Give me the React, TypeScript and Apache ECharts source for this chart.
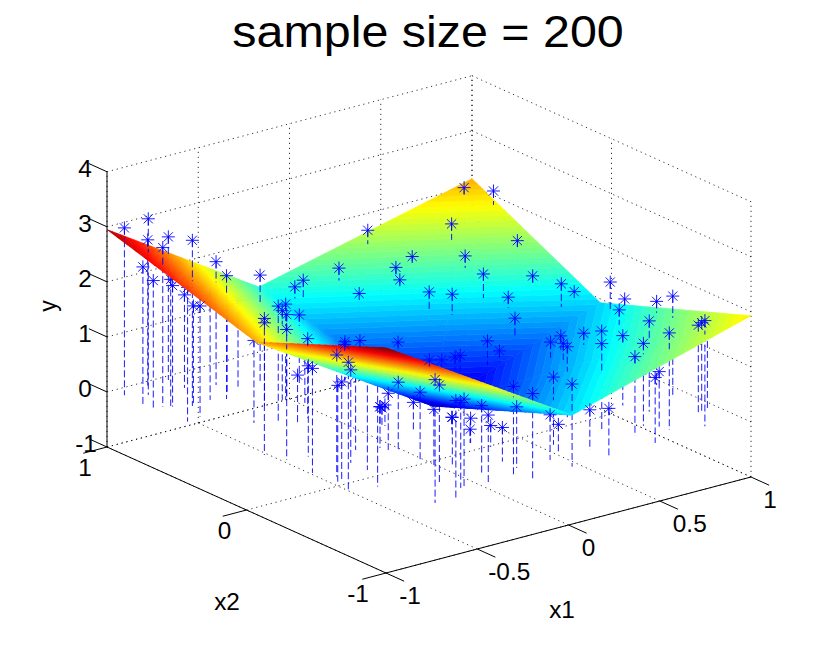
import React, { useEffect, useRef } from "react";
import * as echarts from "echarts";

const titleText = "sample size = 200";
const x1Ticks = [-1, -0.5, 0, 0.5, 1];
const x2Ticks = [-1, 0, 1];
const yTicks = [-1, 0, 1, 2, 3, 4];

// Fitted surface: mesh nodes
const meshX1 = [-1, -0.167, 1, 1, 1, 0.02, -1, -1, 0.02];
const meshX2 = [1, 1, 1, 0.08, -1, -1, -1, -0.07, 0];
const meshY = [2.95, 1.18, 2.13, 0.93, 1.93, 0.98, 3.09, 2.13, 0];
const meshTriangles = [
  [0, 1, 7], [1, 8, 7], [1, 2, 8], [2, 3, 8],
  [8, 3, 4], [8, 4, 5], [7, 8, 5], [7, 5, 6],
];
const colorMin = -0.15;
const colorMax = 3.09;

// Samples [x1, x2, y] that the surface does not hide
const samplesOver = [
  [-0.965, 0.921, 3.04], [-0.88, 0.861, 3.2], [-0.828, 0.933, 2.69], [-0.696, 0.958, 2.6],
  [-0.92, 0.705, 2.89], [-0.989, 0.757, 2.54], [-0.965, 0.714, 2.32], [-0.812, 0.634, 3.01],
  [-0.569, 0.782, 2.24], [-0.64, 0.614, 2.24], [-0.401, 0.686, 1.96], [-0.701, 0.836, 1.69],
  [-0.801, 0.641, 1.8], [-0.867, 0.507, 2.01], [-0.938, -0.047, 2.48], [-0.562, 0.444, 1.51],
  [-0.635, 0.25, 2.1], [-0.442, 0.449, 1.74], [-0.454, 0.458, 1.62], [-0.899, -0.156, 2.64],
  [-0.288, 0.553, 1.29], [-0.439, 0.446, 1.28], [-0.504, 0.21, 1.44], [-0.08, 0.857, 1.27],
  [-0.05, 0.836, 1.39], [0.164, 0.715, 1.1], [0.383, 0.94, 1.8], [0.145, 0.835, 1.44],
  [0.373, 0.725, 1.38], [0.35, 0.667, 1.24], [0.479, 0.747, 1.46], [0.904, 0.931, 2.13],
  [0.98, 0.82, 2.13], [0.701, 0.755, 1.85], [0.91, 0.557, 1.59], [0.646, 0.586, 1.51],
  [0.6, 0.395, 1.44], [0.828, 0.34, 1.27], [0.355, 0.463, 1.25], [0.426, 0.391, 1.23],
  [0.652, 0.285, 1.1], [0.845, 0.157, 1.32], [0.944, 0.194, 1.05], [0.565, 0.123, 0.98],
  [0.367, 0.061, 0.81], [0.421, 0.046, 0.6], [0.233, 0.081, 0.64], [0.233, 0.118, 0.57],
  [0.215, 0.19, 0.45], [0.171, 0.221, 0.45], [0.111, 0.367, 0.66], [-0.086, 0.49, 0.7],
  [-0.095, 0.48, 0.67], [-0.017, 0.473, 0.68], [-0.854, -0.456, 2.21], [-0.916, -0.62, 2.32],
  [-0.7, -0.355, 1.69], [-0.889, -0.509, 1.75], [-0.862, -0.502, 1.78], [-0.578, 0.186, 0.87],
  [-0.799, -0.18, 1.65], [-0.91, -0.355, 1.9], [-0.484, -0.282, 0.75], [-0.298, -0.074, 0.38],
  [-0.309, -0.067, 0.33], [-0.316, -0.061, 0.35], [-0.471, -0.324, 1.03], [-0.436, -0.35, 1.23],
  [-0.715, -0.979, 2.24], [-0.547, -0.79, 1.78], [-0.437, -0.508, 1.23], [-0.23, -0.189, 0.5],
  [-0.428, -0.595, 1.01], [-0.097, -0.29, 0.23], [-0.605, -0.984, 1.77], [-0.502, -0.908, 1.62],
  [-0.511, -0.896, 1.55], [-0.379, -0.663, 0.9], [-0.134, -0.47, 0.25], [-0.132, -0.471, 0.45],
  [-0.339, -0.821, 1.26], [-0.393, -0.939, 1.27], [-0.093, -0.564, 0.39], [-0.165, -0.742, 0.62],
  [-0.242, -0.922, 1.64], [-0.164, -0.843, 1.11], [-0.188, -0.989, 1.54], [0.141, -0.708, 1.23],
  [0.038, -0.976, 1.5], [0.095, -0.803, 0.52], [0.013, -0.851, 0.82], [0.227, -0.856, 0.73],
  [0.232, -0.986, 0.9], [0.948, -0.059, 1.51], [0.995, -0.101, 1.21], [0.829, -0.279, 1.36],
  [0.956, -0.381, 1.52], [0.926, -0.536, 1.82], [0.726, -0.629, 1.65], [0.597, -0.756, 1.5],
  [0.491, -0.834, 1.44], [0.657, -0.863, 1.76], [0.682, -0.497, 1.27], [0.417, -0.693, 1.58],
  [0.758, -0.246, 1.0], [0.637, -0.276, 1.1], [0.884, -0.774, 1.6], [0.898, -0.78, 1.64],
  [0.807, -0.922, 1.92], [0.507, -0.958, 1.19], [0.505, -0.211, 0.98], [0.579, -0.187, 1.0],
  [0.497, -0.312, 1.08], [0.4, -0.468, 1.28],
];

// Samples lying under the surface, drawn before it
const samplesUnder = [
  [-0.887, 0.691, 2.3], [-0.949, 0.489, 2.44], [-0.607, 0.653, 2.0], [-0.506, 0.707, 1.57],
  [-0.729, 0.301, 1.5], [-0.697, -0.47, 1.9], [-0.789, -0.664, 2.56], [-0.584, -0.238, 1.35],
  [0.956, -0.745, 1.4], [0.646, -0.805, 1.0], [-0.704, 0.648, 1.9], [-0.886, 0.679, 2.2],
  [0.874, 0.79, 1.72], [-0.399, 0.368, 1.0],
];

const project = (x1: number, x2: number, y: number) => {
  const a = x1 + 1;
  const b = x2 + 1;
  return [386 + 182.5 * a - 139.5 * b, 573 - 48 * a - 63 * b - 55.05 * (y + 1)];
};

const jet = (t: number) => {
  const c = (v: number) => Math.round(255 * Math.max(0, Math.min(1, v)));
  return `rgb(${c(1.5 - Math.abs(4 * t - 3))},${c(1.5 - Math.abs(4 * t - 2))},${c(1.5 - Math.abs(4 * t - 1))})`;
};

type P3 = number[];

const clipPlane = (poly: P3[], level: number, keepAbove: boolean) => {
  const out: P3[] = [];
  for (let i = 0; i < poly.length; i++) {
    const p = poly[i];
    const q = poly[(i + 1) % poly.length];
    const pIn = keepAbove ? p[2] >= level : p[2] <= level;
    const qIn = keepAbove ? q[2] >= level : q[2] <= level;
    if (pIn) out.push(p);
    if (pIn !== qIn) {
      const s = (level - p[2]) / (q[2] - p[2]);
      out.push([p[0] + s * (q[0] - p[0]), p[1] + s * (q[1] - p[1]), level]);
    }
  }
  return out;
};

const node = (i: number): P3 => [meshX1[i], meshX2[i], meshY[i]];

const nearness = (t: number[]) => {
  const c = t.map(node).reduce((s, p) => [s[0] + p[0] / 3, s[1] + p[1] / 3, s[2] + p[2] / 3], [0, 0, 0]);
  return -0.572 * (c[0] + 1) / 2 - 0.745 * (c[1] + 1) / 2 + 0.22 * (c[2] + 1) / 5;
};

const surfaceAt = (x1: number, x2: number) => {
  for (const t of meshTriangles) {
    const [p, q, r] = t.map(node);
    const d = (q[1] - r[1]) * (p[0] - r[0]) + (r[0] - q[0]) * (p[1] - r[1]);
    const u = ((q[1] - r[1]) * (x1 - r[0]) + (r[0] - q[0]) * (x2 - r[1])) / d;
    const v = ((r[1] - p[1]) * (x1 - r[0]) + (p[0] - r[0]) * (x2 - r[1])) / d;
    const w = 1 - u - v;
    if (u >= -1e-6 && v >= -1e-6 && w >= -1e-6) return u * p[2] + v * q[2] + w * r[2];
  }
  return -Infinity;
};

const buildBands = () => {
  const levels = 64;
  const step = (colorMax - colorMin) / levels;
  const bands: { pts: number[][]; color: string }[] = [];
  const ordered = [...meshTriangles].sort((a, b) => nearness(a) - nearness(b));
  for (const t of ordered) {
    const tri = t.map(node);
    for (let k = 0; k < levels; k++) {
      const lo = colorMin + k * step;
      let poly = clipPlane(tri, lo, true);
      if (poly.length >= 3) poly = clipPlane(poly, lo + step, false);
      if (poly.length >= 3) {
        bands.push({ pts: poly.map((p) => project(p[0], p[1], p[2])), color: jet((k + 0.5) / levels) });
      }
    }
  }
  return bands;
};

type Seg = number[];

const buildGrid = (): Seg[] => {
  const s: Seg[] = [];
  for (const v of x1Ticks) {
    s.push([v, -1, -1, v, 1, -1]);
    s.push([v, 1, -1, v, 1, 4]);
  }
  for (const v of x2Ticks) {
    s.push([-1, v, -1, 1, v, -1]);
    s.push([1, v, -1, 1, v, 4]);
  }
  for (const v of yTicks) {
    s.push([-1, 1, v, 1, 1, v]);
    s.push([1, 1, v, 1, -1, v]);
  }
  return s;
};

const buildAxes = (): Seg[] => {
  const s: Seg[] = [
    [-1, 1, -1, -1, -1, -1],
    [-1, -1, -1, 1, -1, -1],
    [-1, 1, -1, -1, 1, 4],
  ];
  for (const v of x1Ticks) s.push([v, -1, -1, v, -1.13, -1]);
  for (const v of x2Ticks) s.push([-1, v, -1, -1.13, v, -1]);
  for (const v of yTicks) s.push([-1, 1, v, -1, 1.13, v]);
  return s;
};

const segPixels = (seg: Seg) => [...project(seg[0], seg[1], seg[2]), ...project(seg[3], seg[4], seg[5])];

const segmentSeries = (segs: Seg[], z: number, lineStyle: any) => ({
  type: "custom",
  coordinateSystem: "cartesian2d",
  silent: true,
  clip: false,
  progressive: 0,
  z,
  data: segs.map((_, i) => [i, 0]),
  renderItem: (params: any, api: any) => {
    const p = segPixels(segs[params.dataIndex]);
    const a = api.coord([p[0], p[1]]);
    const b = api.coord([p[2], p[3]]);
    return {
      type: "line",
      shape: { x1: a[0], y1: a[1], x2: b[0], y2: b[1] },
      style: { fill: null, ...lineStyle },
    };
  },
});

const starPath = "path://M0 -10L0 10M-10 0L10 0M-7.07 -7.07L7.07 7.07M-7.07 7.07L7.07 -7.07";

const starSeries = (samples: number[][], z: number) => ({
  type: "scatter",
  silent: true,
  z,
  symbol: starPath,
  symbolSize: 13,
  itemStyle: { color: "transparent", borderColor: "#0000ff", borderWidth: 0.9, opacity: 1 },
  data: samples.map((d) => project(d[0], d[1], d[2])),
});

const textFont = '23px "Liberation Sans", Arial, sans-serif';

const label = (text: string, x: number, y: number, extra: any = {}) => ({
  type: "text",
  x,
  y,
  z: 100,
  silent: true,
  scaleX: 1.06,
  style: {
    text,
    font: textFont,
    lineHeight: 20,
    fill: "#000",
    textAlign: "center",
    textVerticalAlign: "middle",
    verticalAlign: "middle",
  },
  ...extra,
});

const buildGraphic = () => {
  const out: any[] = [
    label(titleText, 428, 32, {
      scaleX: 1.1,
      style: {
        text: titleText,
        font: '44px "Liberation Sans", Arial, sans-serif',
        fill: "#000",
        textAlign: "center",
        textVerticalAlign: "middle",
        verticalAlign: "middle",
      },
    }),
    label("x1", 562, 610),
    label("x2", 227, 602),
    label("y", 48, 306, { rotation: Math.PI / 2, scaleX: 1 }),
  ];
  for (const v of yTicks) {
    const p = project(-1, 1, v);
    out.push(label(String(v), v < 0 ? 86 : 85, p[1] - 3));
  }
  for (const v of x1Ticks) {
    const p = project(v, -1, -1);
    const dx = v === -1 ? 24 : v === -0.5 ? 32 : v === 0 ? 20 : v === 0.5 ? 30 : 19;
    out.push(label(String(v), p[0] + dx, p[1] + 23));
  }
  for (const v of x2Ticks) {
    const p = project(-1, v, -1);
    out.push(label(String(v), p[0] - (v === -1 ? 28 : 22), p[1] + 21));
  }
  return out;
};

export default function App() {
  const ref = useRef<HTMLDivElement>(null);
  useEffect(() => {
    if (!ref.current) return;
    const chart = echarts.init(ref.current, undefined, { renderer: "svg", width: 830, height: 647 });
    const bands = buildBands();
    const stemsBelow: Seg[] = [];
    const stemsAbove: Seg[] = [];
    for (const [x1, x2, y] of samplesOver) {
      const s = surfaceAt(x1, x2);
      stemsBelow.push([x1, x2, Math.min(y, s), x1, x2, 0]);
      if (y > s) stemsAbove.push([x1, x2, y, x1, x2, s]);
    }
    for (const [x1, x2, y] of samplesUnder) stemsBelow.push([x1, x2, y, x1, x2, 0]);
    const stemStyle = { stroke: "#0000ff", lineWidth: 0.9, lineDash: [7, 3] };
    chart.setOption({
      animation: false,
      backgroundColor: "#fff",
      grid: { left: 0, right: 0, top: 0, bottom: 0 },
      xAxis: { type: "value", min: 0, max: 830, show: false },
      yAxis: { type: "value", min: 0, max: 647, inverse: true, show: false },
      graphic: buildGraphic(),
      series: [
        segmentSeries(buildGrid(), 1, { stroke: "#000", lineWidth: 0.8, lineDash: [1.2, 3.8] }),
        segmentSeries(stemsBelow, 2, stemStyle),
        starSeries(samplesUnder, 3),
        {
          type: "custom",
          coordinateSystem: "cartesian2d",
          silent: true,
          clip: false,
          progressive: 0,
          z: 4,
          data: bands.map((_, i) => [i, 0]),
          renderItem: (params: any, api: any) => {
            const b = bands[params.dataIndex];
            return {
              type: "polygon",
              shape: { points: b.pts.map((p) => api.coord(p)) },
              style: { fill: b.color, stroke: b.color, lineWidth: 0.6 },
            };
          },
        },
        segmentSeries(stemsAbove, 5, stemStyle),
        starSeries(samplesOver, 6),
        segmentSeries(buildAxes(), 7, { stroke: "#000", lineWidth: 1 }),
      ],
    });
    return () => chart.dispose();
  }, []);
  return (
    <div
      ref={ref}
      style={{ position: "absolute", left: 0, top: 0, width: 830, height: 647, background: "#fff" }}
    />
  );
}
